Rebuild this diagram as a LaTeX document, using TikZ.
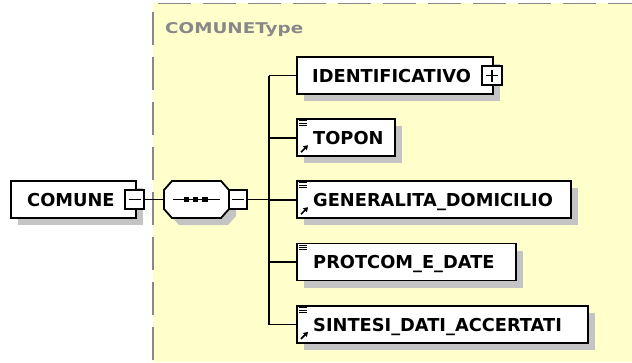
\documentclass[tikz,border=0pt]{standalone}
\usepackage{fontspec}
\usetikzlibrary{shadows,arrows.meta}
\newfontfamily\lblfont{DejaVu Sans}
\newfontfamily\typefont{DejaVu Sans}[FakeStretch=1.24]
\definecolor{ybg}{RGB}{255,255,204}
\definecolor{bordergray}{RGB}{136,136,136}
\definecolor{shadowgray}{RGB}{196,196,196}
\tikzset{
  shd/.style={drop shadow={shadow xshift=7pt, shadow yshift=-7pt, fill=shadowgray, opacity=1, shadow scale=1}},
  elbox/.style={draw=black, fill=white, line width=1.8pt, minimum height=37pt, inner sep=0pt, anchor=west, shd},
  lbl/.style={inner sep=0pt, anchor=base west, font=\lblfont\bfseries\fontsize{17.8}{17.8}\selectfont},
  pmbox/.style={draw=black, fill=white, line width=1.5pt, minimum width=19pt, minimum height=19pt, inner sep=0pt},
  conn/.style={draw=black, line width=1.6pt},
  lnicon/.pic={\draw[line width=1pt] (0,0)--(8,0) (0,2.4)--(8,2.4) (0,4.8)--(8,4.8);},
  arricon/.pic={\draw[line width=1.7pt, -{Triangle[length=4.4pt,width=5.4pt]}] (0,0) -- (7,-7);}
}
\begin{document}
\begin{tikzpicture}[x=1pt,y=-1pt]
\useasboundingbox (0,0) rectangle (632,362);
% background region
\fill[ybg] (153,3.3) rectangle (632,362);
\draw[bordergray, line width=1.5pt, dash pattern=on 33pt off 12pt, dash phase=40pt] (153,3.3) -- (632,3.3);
\draw[bordergray, line width=1.5pt, dash pattern=on 33pt off 12pt, dash phase=36.6pt] (153,3.3) -- (153,362);
\node[inner sep=0pt, anchor=base west, text=bordergray, font=\typefont\bfseries\fontsize{14.8}{14.8}\selectfont] (ctype) at (165,33.6) {COMUNEType};

% root element
\node[elbox, minimum width=125pt] (comune) at (10,199.5) {};
\node[lbl] (comunet) at (27,206.2) {COMUNE};
\node[pmbox] (cmin) at (134.5,199.5) {};
\draw[line width=1.4pt] ([xshift=-6pt]cmin.center) -- ([xshift=6pt]cmin.center);

% sequence
\draw[line width=1.8pt, fill=white, shd] (164,190) -- (172,181) -- (221,181) -- (229,190) -- (229,209) -- (221,218) -- (172,218) -- (164,209) -- cycle;
\node[inner sep=0pt, minimum width=65pt, minimum height=37pt] (seq) at (196.5,199.5) {};
\draw[line width=1.6pt] (173.3,199.5) -- (220,199.5);
\foreach \xx in {186.7,195.8,205} \fill (\xx-2.6,196.9) rectangle (\xx+2.6,202.1);
\node[pmbox, minimum width=18pt] (smin) at (238,199.5) {};
\draw[line width=1.4pt] ([xshift=-6pt]smin.center) -- ([xshift=6pt]smin.center);

\draw[conn] (cmin.east) -- (seq.west);
\coordinate (tr) at (269,199.5);
\draw[conn] (smin.east) -- (tr);

% children
\node[elbox, minimum width=196pt] (ident) at (296,75.5) {};
\node[lbl] (identt) at (312,82.2) {IDENTIFICATIVO};
\node[pmbox, minimum width=20pt] (iplus) at (492,75.5) {};
\draw[line width=1.4pt] ([xshift=-6pt]iplus.center) -- ([xshift=6pt]iplus.center)
  ([yshift=-6pt]iplus.center) -- ([yshift=6pt]iplus.center);

\node[elbox, minimum width=98pt] (topon) at (296,137.8) {};
\node[lbl] (topont) at (313,144.5) {TOPON};

\node[elbox, minimum width=274pt] (gen) at (296,199.8) {};
\node[lbl] (gent) at (313,206.5) {GENERALITA\_DOMICILIO};

\node[elbox, minimum width=219pt] (prot) at (296,262) {};
\node[lbl] (prott) at (313,268.7) {PROTCOM\_E\_DATE};

\node[elbox, minimum width=291pt] (sint) at (296,324.5) {};
\node[lbl] (sintt) at (313,331.2) {SINTESI\_DATI\_ACCERTATI};

% icons
\foreach \b in {topon,gen,prot,sint} \pic at ([xshift=3.2pt,yshift=-2.5pt]\b.north west) {lnicon};
\foreach \b in {topon,gen,sint} \pic at ([xshift=5pt,yshift=5pt]\b.south west) {arricon};

% trunk and branches
\draw[conn] (tr |- ident.west) -- (tr |- sint.west);
\foreach \b in {ident,topon,gen,prot,sint} \draw[conn] (tr |- \b.west) -- (\b.west);
\end{tikzpicture}
\end{document}
